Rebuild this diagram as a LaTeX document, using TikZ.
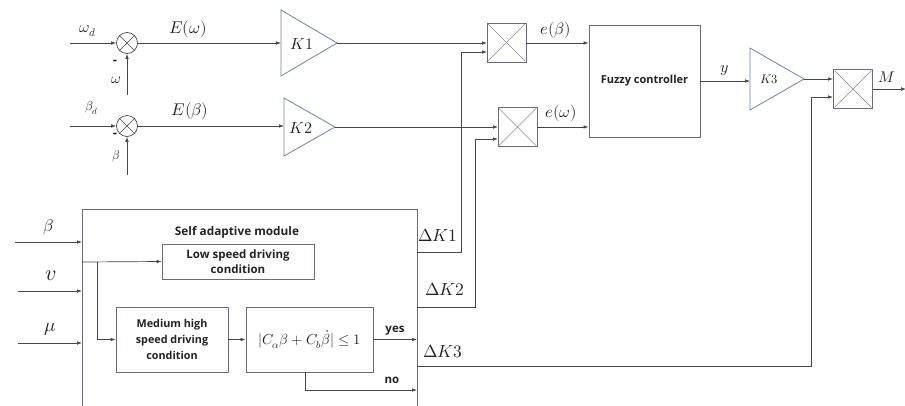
\documentclass[tikz,border=0pt]{standalone}
\usepackage{fontspec}
\usepackage{unicode-math}
\setmathfont{Latin Modern Math}
\setsansfont{Open Sans}
\usetikzlibrary{arrows.meta,calc}
\definecolor{boxcol}{RGB}{105,105,135}
\definecolor{tricol}{RGB}{115,128,165}
\definecolor{linecol}{RGB}{70,70,70}
\definecolor{xcol}{RGB}{140,140,140}
\definecolor{txtcol}{RGB}{35,35,35}
\newcommand{\fsz}[1]{\fontsize{#1}{#1}\selectfont}
\begin{document}
\begin{tikzpicture}[x=1pt,y=-1pt,
  arr/.style={draw=linecol,line width=0.7pt,-{Latex[length=5pt,width=3.6pt]}},
  blk/.style={draw=boxcol,line width=0.8pt,rectangle,inner sep=0pt,fill=white},
  mult/.style={blk,minimum width=39pt,minimum height=39pt},
  sumj/.style={draw=linecol,line width=0.7pt,circle,minimum size=21pt,inner sep=0pt},
  tri/.style={draw=tricol,line width=0.8pt,line join=miter},
  bt/.style={font=\sffamily\bfseries\fsz{10.5},text=txtcol,align=center},
  ml/.style={text=txtcol,inner sep=0pt}]
\useasboundingbox (0,0) rectangle (905,405);

% ---------- summing junctions ----------
\node[sumj] (s1) at (127,43) {};
\node[sumj] (s2) at (127,126) {};
\foreach \s in {s1,s2}{
  \draw[linecol,line width=0.6pt] (\s.north west) -- (\s.south east);
  \draw[linecol,line width=0.6pt] (\s.north east) -- (\s.south west);
}
\coordinate (wdin) at (70,43);
\coordinate (bdin) at (70,126);
\coordinate (win) at (127,95);
\coordinate (bin) at (127,175);
\draw[arr] (wdin) -- (s1.west);
\draw[arr] (bdin) -- (s2.west);
\draw[arr] (win) -- (s1.south);
\draw[arr] (bin) -- (s2.south);
\node[ml,font=\fsz{16}] (lwd) at (88,31) {$\omega_d$};
\node[ml,font=\fsz{13}] (lbd) at (92,108) {$\beta_d$};
\node[ml,font=\sffamily\bfseries\fsz{13}] (mw) at (115,62) {-};
\node[ml,font=\sffamily\bfseries\fsz{13}] (mb) at (115,135) {-};
\node[ml,font=\fsz{15}] (lw) at (116,80) {$\omega$};
\node[ml,font=\fsz{12.5}] (lb) at (116,156) {$\beta$};

% ---------- gains K1, K2 ----------
\coordinate (K1in) at (281,43);
\coordinate (K1out) at (337,43);
\coordinate (K2in) at (284,127);
\coordinate (K2out) at (335,127);
\draw[tri] (281,10) -- (K1out) -- (281,76) -- cycle;
\draw[tri] (284,98) -- (K2out) -- (284,156) -- cycle;
\node[ml,font=\fsz{16}] (K1) at (302,44) {$K1$};
\node[ml,font=\fsz{16}] (K2) at (301,128) {$K2$};
\draw[arr] (s1.east) -- (K1in);
\draw[arr] (s2.east) -- (s2.east -| K2in);
\node[ml,font=\fsz{17}] (lEw) at (188,29) {$E(\omega)$};
\node[ml,font=\fsz{17}] (lEb) at (190,111) {$E(\beta)$};

% ---------- multipliers ----------
\node[mult] (m1) at (506.5,42.5) {};
\node[mult] (m2) at (517.5,127) {};
\node[mult] (m3) at (853,89) {};
\foreach \m in {m1,m2,m3}{
  \draw[xcol,line width=0.6pt,shorten <=2pt,shorten >=2pt] (\m.north west) -- (\m.south east);
  \draw[xcol,line width=0.6pt,shorten <=2pt,shorten >=2pt] (\m.north east) -- (\m.south west);
}
\coordinate (m1a) at (487,43);
\coordinate (m1b) at (487,52);
\coordinate (m2a) at (498,127);
\coordinate (m2b) at (498,139);
\coordinate (m3a) at (833,79);
\coordinate (m3b) at (833,97);
\draw[arr] (K1out) -- (m1a);
\draw[arr] (K2out) -- (m2a);

% ---------- fuzzy controller ----------
\node[blk,minimum width=111pt,minimum height=112pt] (fz) at (644.5,81) {};
\node[bt,font=\sffamily\bfseries\fsz{11}] (fzt) at (fz.center) {Fuzzy controller};
\draw[arr] (m1.east |- m1a) -- (fz.west |- m1a);
\draw[arr] (m2.east) -- (fz.west |- m2.east);
\node[ml,font=\fsz{16.5}] (leb) at (556,30) {$e(\beta)$};
\node[ml,font=\fsz{16.5}] (lew) at (561,113) {$e(\omega)$};

% ---------- K3 ----------
\coordinate (K3in) at (750,81);
\coordinate (K3out) at (804,79);
\draw[tri] (750,48) -- (K3out) -- (750,110) -- cycle;
\node[ml,font=\fsz{12.5}] (K3) at (769,79) {$K3$};
\draw[arr] (fz.east |- K3in) -- (K3in);
\node[ml,font=\fsz{16}] (ly) at (725,71) {$y$};
\draw[arr] (K3out) -- (m3a);
\coordinate (Mout) at (906,89);
\draw[arr] (m3.east) -- (Mout);
\node[ml,font=\fsz{15.5}] (lM) at (887,77) {$M$};

% ---------- self adaptive module ----------
\node[blk,fill=none,minimum width=335pt,minimum height=215pt,anchor=north west] (mod) at (82,209) {};
\node[bt,font=\sffamily\bfseries\fsz{11.8}] (modt) at (237,232) {Self adaptive module};
\node[blk,minimum width=152pt,minimum height=35pt,bt,font=\sffamily\bfseries\fontsize{11.5}{15}\selectfont] (low) at (238,261.5) {Low speed driving\\condition};
\node[blk,minimum width=112pt,minimum height=65pt,bt,font=\sffamily\bfseries\fontsize{10.8}{16}\selectfont] (med) at (172,339.5) {Medium high\\speed driving\\condition};
\node[blk,minimum width=127pt,minimum height=65pt,font=\fsz{14.5},text=txtcol] (cond) at (309.5,339.5) {$\lvert C_\alpha\beta+C_b\dot{\beta}\rvert\le 1$};

\coordinate (bin1) at (15,242);
\coordinate (vin) at (18,291);
\coordinate (muin) at (18,343);
\draw[arr] (bin1) -- (mod.west |- bin1);
\draw[arr] (vin) -- (mod.west |- vin);
\draw[arr] (muin) -- (mod.west |- muin);
\node[ml,font=\fsz{17}] (lbeta) at (49,227) {$\beta$};
\node[ml,font=\fsz{22}] (lv) at (51,276) {$v$};
\node[ml,font=\fsz{19}] (lmu) at (50,329) {$\mu$};

\coordinate (br) at (82,262);
\coordinate (brd) at (97,262);
\draw[arr] (br) -- (low.west);
\draw[arr] (brd) |- (med.west);
\draw[arr] (med.east) -- (cond.west);
\coordinate (yesend) at (417,339.5);
\draw[arr] (cond.east) -- (yesend);
\node[bt,font=\sffamily\bfseries\fsz{11.5}] (lyes) at (395,331) {yes};
\coordinate (nostart) at (305,372);
\coordinate (noend) at (417,390);
\draw[arr] (nostart) |- (noend);
\node[bt,font=\sffamily\bfseries\fsz{11.5}] (lno) at (392,380) {no};

% ---------- Delta K outputs ----------
\coordinate (dk1) at (417,252);
\coordinate (dk2) at (417,307);
\coordinate (dk3) at (417,366);
\draw[arr] (dk1) -- ++(44,0) |- (m1b);
\draw[arr] (dk2) -- ++(58,0) |- (m2b);
\draw[arr] (dk3) -- ++(394,0) |- (m3b);
\node[ml,font=\fsz{17.5}] (ldk1) at (438,235) {$\Delta K1$};
\node[ml,font=\fsz{17.5}] (ldk2) at (445,289) {$\Delta K2$};
\node[ml,font=\fsz{17.5}] (ldk3) at (443,351) {$\Delta K3$};
\end{tikzpicture}
\end{document}
